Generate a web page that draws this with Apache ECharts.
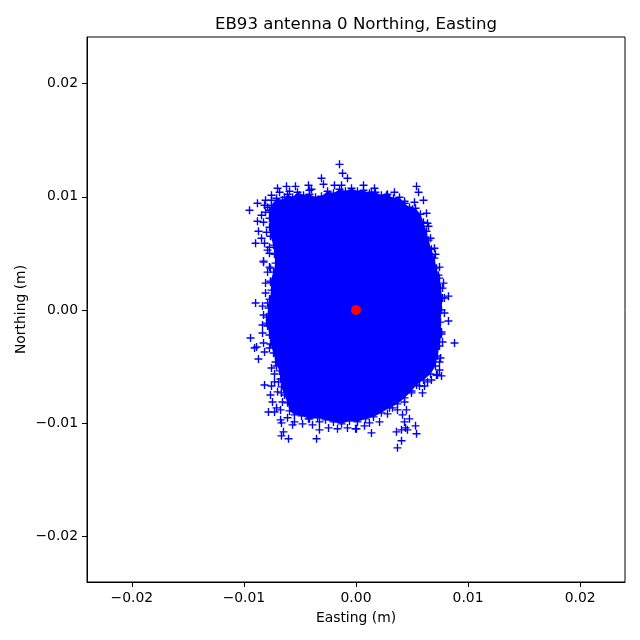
<!DOCTYPE html>
<html>
<head>
	<meta charset="utf-8">
	<title>EB93 antenna 0 Northing, Easting</title>
	<script src="https://cdn.jsdelivr.net/npm/echarts@6/dist/echarts.min.js"></script>
	<style>
		html, body { margin: 0; background: #fff; }
		#main { width: 640px; height: 640px; }
	</style>
</head>
<body>
<div id="main"></div>
<script type="text/javascript">
var axisTicks = [-0.02, -0.01, 0, 0.01, 0.02];

// [easting, northing] individual fixes readable around the edge of the cloud
var edgeFixes = [
	[-0.00147,0.01286],[-0.00308,0.01163],[-0.00290,0.01110],[-0.00120,0.01207],[-0.00076,0.01163],
	[-0.00950,0.00881],[-0.00879,0.00943],[-0.00700,0.01075],[-0.00620,0.01092],[-0.00540,0.01092],
	[-0.00424,0.01101],[-0.00415,0.01057],[-0.00343,0.00969],[-0.00192,0.01101],[-0.00129,0.01101],
	[-0.00754,0.01013],[-0.00879,0.00784],[-0.00870,0.00696],[-0.00896,0.00590],[-0.00825,0.00432],
	[-0.00772,0.00379],[-0.00772,0.00555],[-0.00772,0.00502],[-0.00843,0.00634],[-0.00816,0.00925],
	[-0.00843,0.00837],[-0.00638,0.00996],[-0.00504,0.01013],
	[0.00067,0.01101],[0.00138,0.01040],[0.00272,0.01013],[0.00433,0.00960],[0.00540,0.01092],
	[0.00558,0.01040],[0.00602,0.00969],[0.00522,0.00951],[0.00504,0.00890],[0.00629,0.00855],
	[0.00638,0.00766],[0.00647,0.00740],[0.00665,0.00634],[0.00700,0.00546],[0.00709,0.00493],
	[0.00745,0.00379],[0.00736,0.00308],[0.00781,0.00238],[0.00772,0.00194],[0.00825,0.00123],
	[0.00789,0.00106],[0.00789,-0.00026],[0.00825,-0.00097],[0.00763,-0.00194],[0.00772,-0.00282],
	[0.00879,-0.00291],[0.00754,-0.00423],[0.00745,-0.00529],[0.00763,-0.00581],[0.00718,-0.00573],
	[-0.00825,0.00423],[-0.00763,0.00370],[-0.00763,0.00247],[-0.00807,0.00150],[-0.00896,0.00062],
	[-0.00834,0.00035],[-0.00789,0.00062],[-0.00798,-0.00115],[-0.00834,-0.00203],[-0.00941,-0.00247],
	[-0.00825,-0.00291],[-0.00887,-0.00326],[-0.00905,-0.00335],[-0.00772,-0.00335],[-0.00870,-0.00432],
	[-0.00709,-0.00493],[-0.00727,-0.00564],
	[-0.00816,-0.00661],[-0.00754,-0.00670],[-0.00691,-0.00634],[-0.00763,-0.00749],[-0.00745,-0.00811],
	[-0.00665,-0.00731],[-0.00656,-0.00811],[-0.00781,-0.00899],[-0.00727,-0.00899],[-0.00709,-0.00863],
	[-0.00673,-0.00969],[-0.00665,-0.00996],[-0.00647,-0.01075],[-0.00665,-0.01110],[-0.00602,-0.01136],
	[-0.00566,-0.01013],[-0.00611,-0.00951],[-0.00424,-0.00960],[-0.00326,-0.01057],[-0.00352,-0.01136],
	[-0.00245,-0.01040],[-0.00165,-0.01048],[-0.00076,-0.01040],[-0.00004,-0.01048],[-0.00326,-0.00987],
	[0.00004,-0.01048],[0.00138,-0.01084],[0.00120,-0.00996],[0.00210,-0.00987],[0.00326,-0.00863],
	[0.00433,-0.00811],[0.00495,-0.00731],[0.00593,-0.00731],[0.00566,-0.00670],[0.00638,-0.00634],
	[0.00727,-0.00573],[0.00745,-0.00458],[0.00450,-0.00881],[0.00415,-0.00925],[0.00477,-0.00960],
	[0.00433,-0.00987],[0.00531,-0.01022],[0.00540,-0.01092],[0.00361,-0.01075],[0.00406,-0.01057],
	[0.00442,-0.01040],[0.00406,-0.01154],[0.00370,-0.01216],[0.00459,-0.01057]
];

// denser marks just outside the solid part, mostly on the left side
var fringeFixes = [
	[-0.00807,0.00863],[-0.00789,0.00907],[-0.00825,0.00775],[-0.00798,0.00687],[-0.00816,0.00590],
	[-0.00789,0.00529],[-0.00754,0.00969],[-0.00807,0.00969],[-0.00682,0.01040],[-0.00789,0.00335],
	[-0.00807,0.00238],[-0.00825,-0.00044],[-0.00834,-0.00132],[-0.00816,-0.00370],[-0.00754,-0.00511],
	[-0.00727,-0.00634],[-0.00700,-0.00722],[-0.00673,-0.00881],[-0.00549,-0.00987],[-0.00477,-0.01004],
	[-0.00388,-0.01013],[0.00076,-0.01022],[0.00281,-0.00916],[0.00370,-0.00881],[0.00673,-0.00617],
	[0.00611,-0.00670],[-0.00397,0.01066],[-0.00593,0.01048],[0.00165,0.01075],[0.00343,0.01040]
];

// outline of the part of the cloud where the + marks merge into solid colour
var solidOutline = [
	[-0.00754,0.00925],[-0.00709,0.00987],[-0.00656,0.00969],[-0.00611,0.01022],[-0.00566,0.00996],
	[-0.00522,0.01040],[-0.00468,0.01013],[-0.00415,0.01022],[-0.00361,0.00996],[-0.00308,0.01004],
	[-0.00254,0.01048],[-0.00201,0.01031],[-0.00147,0.01066],[-0.00094,0.01048],[-0.00040,0.01075],
	[0.00013,0.01048],[0.00067,0.01057],[0.00120,0.01031],[0.00174,0.01040],[0.00227,0.01013],
	[0.00281,0.01022],[0.00334,0.00987],[0.00388,0.00996],[0.00433,0.00943],[0.00477,0.00907],
	[0.00531,0.00899],[0.00575,0.00846],[0.00602,0.00775],[0.00629,0.00696],[0.00647,0.00617],
	[0.00673,0.00537],[0.00700,0.00458],[0.00718,0.00370],[0.00745,0.00282],[0.00754,0.00194],
	[0.00772,0.00106],[0.00763,0],[0.00754,-0.00106],[0.00763,-0.00211],[0.00745,-0.00317],
	[0.00727,-0.00405],[0.00709,-0.00493],[0.00665,-0.00564],[0.00602,-0.00617],[0.00540,-0.00661],
	[0.00495,-0.00714],[0.00433,-0.00775],[0.00370,-0.00828],[0.00299,-0.00863],[0.00227,-0.00907],
	[0.00156,-0.00943],[0.00085,-0.00960],[0.00013,-0.00987],[-0.00058,-0.00978],[-0.00129,-0.01004],
	[-0.00201,-0.00987],[-0.00272,-0.00969],[-0.00343,-0.00951],[-0.00415,-0.00960],[-0.00486,-0.00934],
	[-0.00549,-0.00925],[-0.00593,-0.00890],[-0.00611,-0.00819],[-0.00638,-0.00749],[-0.00665,-0.00678],
	[-0.00673,-0.00608],[-0.00682,-0.00537],[-0.00718,-0.00458],[-0.00736,-0.00379],[-0.00763,-0.00300],
	[-0.00772,-0.00220],[-0.00789,-0.00141],[-0.00798,-0.00062],[-0.00780,0.00018],[-0.00772,0.00097],
	[-0.00754,0.00176],[-0.00763,0.00255],[-0.00736,0.00335],[-0.00718,0.00414],[-0.00727,0.00493],
	[-0.00736,0.00573],[-0.00763,0.00652],[-0.00772,0.00731],[-0.00772,0.00811],[-0.00772,0.00881]
];

var meanPosition = [[0, 0]];

var myChart = echarts.init(document.getElementById('main'));

function tickLabel(v) {
	if (v === 0) return '0.00';
	return (v < 0 ? '\u2212' : '') + Math.abs(v).toFixed(2);
}

function makeAxis(name, gap, max) {
	return {
		type: 'value',
		min: -0.024,
		max: max,
		name: name,
		nameLocation: 'middle',
		nameGap: gap,
		nameMoveOverlap: false,
		nameTextStyle: { fontFamily: 'DejaVu Sans', fontSize: 13.9, color: '#000' },
		splitLine: { show: false },
		axisLine: { show: true, onZero: false, lineStyle: { color: '#000', width: 1 } },
		axisTick: { show: true, length: 5, customValues: axisTicks, lineStyle: { color: '#000', width: 1 } },
		axisLabel: {
			show: true,
			customValues: axisTicks,
			formatter: tickLabel,
			margin: 9,
			fontFamily: 'DejaVu Sans',
			fontSize: 13.9,
			color: '#000'
		}
	};
}

var option = {
	animation: false,
	backgroundColor: '#fff',
	title: {
		text: 'EB93 antenna 0 Northing, Easting',
		left: 351,
		top: 11,
		textAlign: 'center',
		textStyle: { fontFamily: 'DejaVu Sans', fontSize: 16.6, fontWeight: 'normal', color: '#000' }
	},
	grid: { left: 87, right: 15, top: 37, bottom: 58, show: true, borderColor: '#000', borderWidth: 1, backgroundColor: 'transparent' },
	xAxis: makeAxis('Easting (m)', 29, 0.024),
	yAxis: makeAxis('Northing (m)', 59, 0.0241),
	series: [
		{
			type: 'custom',
			data: solidOutline,
			encode: { x: 0, y: 1 },
			renderItem: function (params, api) {
				if (params.dataIndex !== 0) return null;
				return {
					type: 'polygon',
					shape: { points: solidOutline.map(function (p) { return api.coord(p); }) },
					style: { fill: '#0000ff' }
				};
			},
			z: 2
		},
		{
			type: 'scatter',
			data: edgeFixes.concat(fringeFixes, solidOutline),
			symbol: 'path://M0 4H8M4 0V8',
			symbolSize: 8,
			itemStyle: { color: '#0000ff', borderColor: '#0000ff', borderWidth: 1.4, opacity: 1 },
			z: 3
		},
		{
			type: 'scatter',
			data: meanPosition,
			symbol: 'circle',
			symbolSize: 10,
			itemStyle: { color: '#ff0000', opacity: 1 },
			z: 4
		}
	]
};

myChart.setOption(option);
</script>
</body>
</html>
